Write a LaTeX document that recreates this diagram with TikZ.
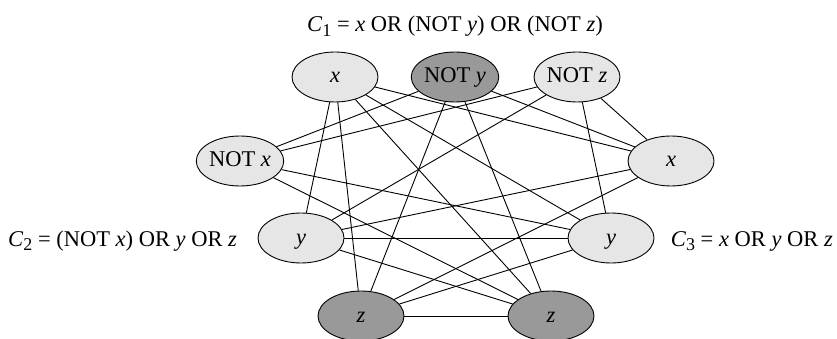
\documentclass[tikz,border=0pt]{standalone}
\usepackage{fontspec}
\setmainfont{Liberation Serif}
\newcommand\lowsub[1]{\raisebox{-0.22em}{\fontsize{18}{18}\selectfont #1}}
\definecolor{lightfill}{HTML}{E6E6E6}
\definecolor{darkfill}{HTML}{999999}
\tikzset{
  lit/.style={ellipse, draw=black, line width=0.9pt, minimum width=86pt, minimum height=50pt,
    inner sep=0pt, text height=15pt, text depth=3pt, font=\fontsize{22.5}{26}\selectfont},
  litlight/.style={lit, fill=lightfill},
  litdark/.style={lit, fill=darkfill},
  lbl/.style={font=\fontsize{22.5}{26}\selectfont, inner sep=0pt, anchor=base},
  edge/.style={draw=black, line width=0.9pt}
}
\usetikzlibrary{shapes.geometric}
\begin{document}
\begin{tikzpicture}[x=1pt,y=-1pt]
\useasboundingbox (0,0) rectangle (837,339);
% clause 1
\node[litlight] (x1) at (335,77) {\textit{x}};
\node[litdark] (ny1) at (455,77) {NOT \textit{y}};
\node[litlight] (nz1) at (577,77) {NOT \textit{z}};
% clause 2
\node[litlight] (nx2) at (240,161) {NOT \textit{x}};
\node[litlight] (y2) at (301,238) {\textit{y}};
\node[litdark] (z2) at (361,316) {\textit{z}};
% clause 3
\node[litlight] (x3) at (671,161) {\textit{x}};
\node[litlight] (y3) at (611,238) {\textit{y}};
\node[litdark] (z3) at (551,316) {\textit{z}};
% labels
\node[lbl] (c1) at (455,32) {\textit{C}\lowsub{1} = \textit{x} OR (NOT \textit{y}) OR (NOT \textit{z})};
\node[lbl, anchor=base west] (c2) at (8,246) {\textit{C}\lowsub{2} = (NOT \textit{x}) OR \textit{y} OR \textit{z}};
\node[lbl, anchor=base east] (c3) at (833,246) {\textit{C}\lowsub{3} = \textit{x} OR \textit{y} OR \textit{z}};
% edges C1-C2
\draw[edge] (x1) -- (y2);
\draw[edge] (x1) -- (z2);
\draw[edge] (ny1) -- (nx2);
\draw[edge] (ny1) -- (z2);
\draw[edge] (nz1) -- (nx2);
\draw[edge] (nz1) -- (y2);
% edges C1-C3
\draw[edge] (x1) -- (x3);
\draw[edge] (x1) -- (y3);
\draw[edge] (x1) -- (z3);
\draw[edge] (ny1) -- (x3);
\draw[edge] (ny1) -- (z3);
\draw[edge] (nz1) -- (x3);
\draw[edge] (nz1) -- (y3);
% edges C2-C3
\draw[edge] (nx2) -- (y3);
\draw[edge] (nx2) -- (z3);
\draw[edge] (y2) -- (x3);
\draw[edge] (y2) -- (y3);
\draw[edge] (y2) -- (z3);
\draw[edge] (z2) -- (x3);
\draw[edge] (z2) -- (y3);
\draw[edge] (z2) -- (z3);
\end{tikzpicture}
\end{document}
